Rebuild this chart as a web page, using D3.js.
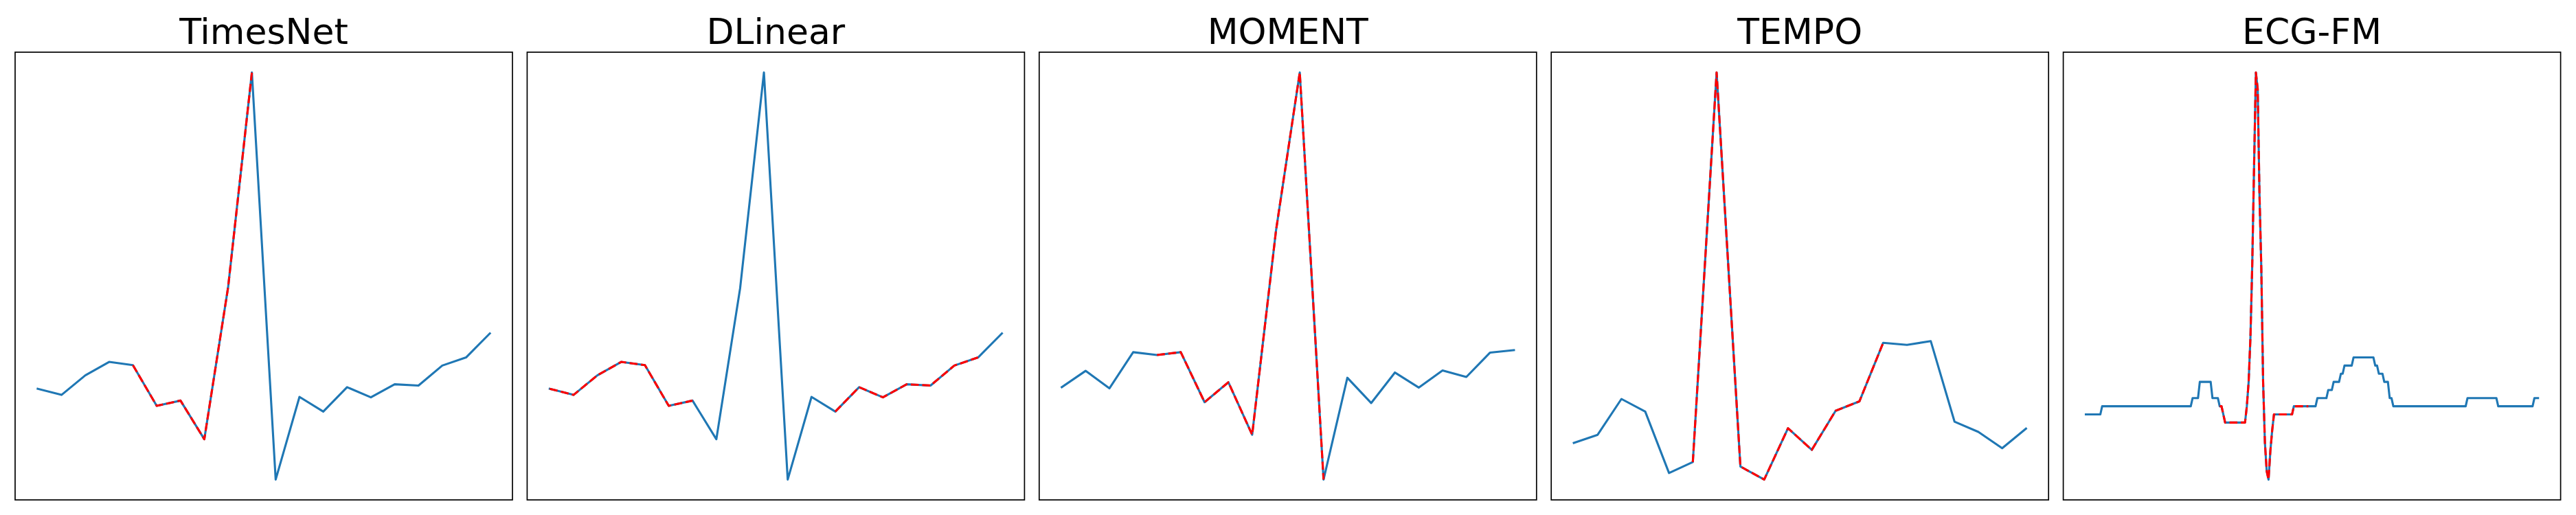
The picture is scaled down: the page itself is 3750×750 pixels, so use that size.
<!DOCTYPE html>
<meta charset="utf-8">
<style>
  body { margin: 0; background: #fff; }
  .title { font-family: "DejaVu Sans", sans-serif; font-size: 52px; fill: #000; }
</style>

<!-- Load d3.js -->
<script src="https://d3js.org/d3.v7.min.js"></script>

<!-- Create a div where the graph will take place -->
<div id="my_dataviz"></div>

<script>

// panel titles
var titles = ["TimesNet", "DLinear", "MOMENT", "TEMPO", "ECG-FM"];

// one beat per model, normalised amplitude, 20 samples each
var timesNetValues = [0.223, 0.208, 0.256, 0.289, 0.281, 0.181, 0.194, 0.099, 0.472, 1.0,
                      0.0, 0.203, 0.167, 0.227, 0.202, 0.234, 0.231, 0.280, 0.300, 0.359];
var dlinearValues  = [0.223, 0.208, 0.256, 0.289, 0.281, 0.181, 0.194, 0.099, 0.470, 1.0,
                      0.0, 0.203, 0.167, 0.227, 0.202, 0.234, 0.231, 0.280, 0.300, 0.359];
var momentValues   = [0.227, 0.267, 0.224, 0.313, 0.306, 0.313, 0.190, 0.239, 0.110, 0.611,
                      1.0, 0.0, 0.250, 0.188, 0.263, 0.226, 0.268, 0.252, 0.312, 0.318];
var tempoValues    = [0.090, 0.110, 0.198, 0.167, 0.016, 0.043, 1.0, 0.032, 0.0, 0.126,
                      0.073, 0.169, 0.192, 0.336, 0.331, 0.340, 0.142, 0.117, 0.077, 0.125];

// ECG-FM works on the high-rate signal: sample index + value at each corner
var ecgfmSamples = [0, 8, 9, 58, 59, 62, 63, 69, 70, 73, 74, 75, 77, 88, 89, 90, 91, 92, 93, 94,
                    95, 96, 97, 98, 99, 100, 101, 102, 103, 104, 114, 115, 123, 127, 128, 133, 134, 136, 137, 140,
                    141, 142, 143, 147, 148, 159, 160, 161, 162, 164, 165, 167, 168, 169, 170, 210, 211, 227, 228, 247,
                    248, 250];
var ecgfmValues  = [0.16, 0.16, 0.18, 0.18, 0.20, 0.20, 0.24, 0.24, 0.20, 0.20, 0.18, 0.18, 0.14, 0.14, 0.18, 0.24, 0.35, 0.53, 0.77, 1.00,
                    0.96, 0.70, 0.52, 0.24, 0.09, 0.02, 0.00, 0.07, 0.12, 0.16, 0.16, 0.18, 0.18, 0.18, 0.20, 0.20, 0.22, 0.22, 0.24, 0.24,
                    0.26, 0.26, 0.28, 0.28, 0.30, 0.30, 0.28, 0.28, 0.26, 0.26, 0.24, 0.24, 0.20, 0.20, 0.18, 0.18, 0.20, 0.20, 0.18, 0.18,
                    0.20, 0.20];

// highlighted (red dashed) stretches, in x units of each panel
var redRanges = [[[4, 9]], [[0, 6], [12, 18]], [[4, 11]], [[5, 13]], [[74, 123]]];

// build point lists
function indexed(vals) { return vals.map(function(v, i) { return {x: i, y: v}; }); }
var series = [
  indexed(timesNetValues),
  indexed(dlinearValues),
  indexed(momentValues),
  indexed(tempoValues),
  ecgfmSamples.map(function(s, i) { return {x: s, y: ecgfmValues[i]}; })
];

// layout
var W = 3750, H = 750;
var panelLeft = 22, panelStep = 745.4, panelW = 724;
var panelTop = 76, panelH = 652;

var svg = d3.select("#my_dataviz")
  .append("svg")
    .attr("width", W)
    .attr("height", H)
    .style("display", "block");

svg.append("rect").attr("width", W).attr("height", H).attr("fill", "#fff");

// matplotlib style 5% margins around the data
function padded(ext) {
  var span = ext[1] - ext[0];
  return [ext[0] - 0.05 * span, ext[1] + 0.05 * span];
}

series.forEach(function(data, k) {

  var g = svg.append("g")
    .attr("transform", "translate(" + (panelLeft + k * panelStep) + "," + panelTop + ")");

  var x = d3.scaleLinear()
    .domain(padded(d3.extent(data, function(d) { return d.x; })))
    .range([0, panelW]);
  var y = d3.scaleLinear()
    .domain(padded(d3.extent(data, function(d) { return d.y; })))
    .range([panelH, 0]);

  var line = d3.line()
    .x(function(d) { return x(d.x); })
    .y(function(d) { return y(d.y); });

  // full signal
  g.append("path")
    .datum(data)
    .attr("fill", "none")
    .attr("stroke", "#1f77b4")
    .attr("stroke-width", 3.1)
    .attr("stroke-linejoin", "round")
    .attr("stroke-linecap", "square")
    .attr("d", line);

  // highlighted parts
  redRanges[k].forEach(function(r) {
    var part = data.filter(function(d) { return d.x >= r[0] && d.x <= r[1]; });
    g.append("path")
      .datum(part)
      .attr("fill", "none")
      .attr("stroke", "red")
      .attr("stroke-width", 3.1)
      .attr("stroke-dasharray", "11.6,5")
      .attr("stroke-linejoin", "round")
      .attr("stroke-linecap", "butt")
      .attr("d", line);
  });

  // frame
  g.append("rect")
    .attr("width", panelW)
    .attr("height", panelH)
    .attr("fill", "none")
    .attr("stroke", "#000")
    .attr("stroke-width", 1.7);

  // title
  g.append("text")
    .attr("class", "title")
    .attr("x", panelW / 2)
    .attr("y", -12.5)
    .attr("text-anchor", "middle")
    .text(titles[k]);
});

</script>
